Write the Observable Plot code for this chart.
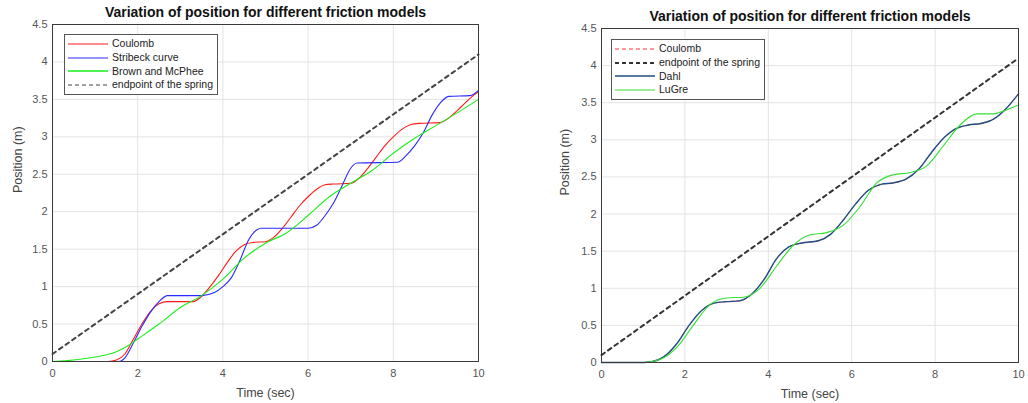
<!DOCTYPE html>
<html><head><meta charset="utf-8">
<script src="https://cdn.jsdelivr.net/npm/d3@7"></script>
<script src="https://cdn.jsdelivr.net/npm/@observablehq/plot@0.6"></script>
<style>
body{margin:0;background:#fff;width:1028px;height:403px;overflow:hidden;position:relative;font-family:"Liberation Sans",Arial,sans-serif}
.panel{position:absolute;top:0}
.legend{position:absolute;background:#fff;border:1px solid #555;font-size:10.5px;color:#222;padding:2px 4px 2px 3px;line-height:13.8px}
.legend div{display:flex;align-items:center;white-space:nowrap}
.legend svg{margin-right:4px}
</style>
</head><body>
<script>
// ---- shared ticks ----
const xTicks = [0, 2, 4, 6, 8, 10];
const yTicks = [0, 0.5, 1, 1.5, 2, 2.5, 3, 3.5, 4, 4.5];
const title = "Variation of position for different friction models";

// ---- left panel data ----
const springT = [0, 10];
const springY = [0.1, 4.1];

const coulombT = [0, 1.3, 1.5, 1.7, 1.9, 2.1, 2.3, 2.5, 2.7, 3.3, 3.5, 3.7, 3.9, 4.1, 4.3, 4.5, 4.7, 5.0, 5.2, 5.4, 5.6, 5.8, 6.0, 6.2, 6.4, 6.6, 7.0, 7.2, 7.4, 7.6, 7.8, 8.0, 8.2, 8.4, 8.6, 9.1, 9.3, 9.5, 9.7, 9.9, 10];
const coulombY = [0, 0, 0.02, 0.1, 0.3, 0.5, 0.67, 0.77, 0.8, 0.8, 0.87, 1.0, 1.15, 1.32, 1.47, 1.56, 1.59, 1.6, 1.66, 1.78, 1.93, 2.08, 2.2, 2.3, 2.36, 2.37, 2.38, 2.45, 2.58, 2.73, 2.88, 3.0, 3.1, 3.16, 3.18, 3.19, 3.25, 3.35, 3.46, 3.56, 3.6];

const stribeckT = [0, 1.55, 1.7, 1.9, 2.1, 2.3, 2.5, 2.7, 3.5, 3.8, 4.0, 4.2, 4.4, 4.6, 4.8, 4.9, 6.0, 6.2, 6.4, 6.6, 6.8, 7.0, 7.15, 8.1, 8.3, 8.5, 8.7, 8.9, 9.1, 9.3, 9.8, 10];
const stribeckY = [0, 0, 0.05, 0.25, 0.47, 0.66, 0.8, 0.88, 0.88, 0.92, 1.0, 1.12, 1.35, 1.62, 1.76, 1.78, 1.78, 1.82, 1.95, 2.12, 2.35, 2.58, 2.65, 2.66, 2.75, 2.88, 3.05, 3.28, 3.45, 3.54, 3.55, 3.62];

const brownT = [0, 0.5, 1.0, 1.5, 1.8, 2.0, 2.5, 3.0, 3.5, 4.0, 4.5, 5.0, 5.5, 6.0, 6.5, 7.0, 7.5, 8.0, 8.5, 9.0, 9.5, 10];
const brownY = [0, 0.02, 0.06, 0.13, 0.22, 0.3, 0.5, 0.72, 0.88, 1.1, 1.38, 1.58, 1.72, 1.95, 2.2, 2.38, 2.55, 2.78, 2.98, 3.15, 3.32, 3.5];

// ---- right panel data ----
const dahlT = [0, 1.0, 1.2, 1.5, 1.8, 2.1, 2.4, 2.7, 3.0, 3.3, 3.6, 3.9, 4.2, 4.5, 4.8, 5.2, 5.5, 5.8, 6.1, 6.4, 6.7, 7.0, 7.3, 7.6, 7.9, 8.2, 8.5, 8.8, 9.1, 9.4, 9.7, 10];
const dahlY = [0, 0, 0.01, 0.08, 0.25, 0.5, 0.7, 0.8, 0.82, 0.83, 0.92, 1.12, 1.4, 1.56, 1.61, 1.64, 1.73, 1.92, 2.14, 2.32, 2.4, 2.42, 2.47, 2.6, 2.82, 3.02, 3.15, 3.2, 3.22, 3.28, 3.42, 3.62];

const coulomb2T = [0, 1.0, 1.2, 1.5, 1.8, 2.1, 2.4, 2.7, 3.0, 3.3, 3.6, 3.9, 4.2, 4.5, 4.8, 5.2, 5.5, 5.8, 6.1, 6.4, 6.7, 7.0, 7.3, 7.6, 7.9, 8.2, 8.5, 8.8, 9.1, 9.4, 9.7, 10];
const coulomb2Y = [0, 0, 0.01, 0.08, 0.25, 0.5, 0.7, 0.8, 0.82, 0.83, 0.92, 1.12, 1.4, 1.56, 1.61, 1.64, 1.73, 1.92, 2.14, 2.32, 2.4, 2.42, 2.47, 2.6, 2.82, 3.02, 3.15, 3.2, 3.22, 3.28, 3.42, 3.62];

const lugreT = [0, 1.0, 1.4, 1.8, 2.2, 2.6, 3.0, 3.4, 3.8, 4.2, 4.6, 5.0, 5.4, 5.8, 6.2, 6.6, 7.0, 7.4, 7.8, 8.2, 8.6, 9.0, 9.4, 9.7, 10];
const lugreY = [0, 0, 0.04, 0.2, 0.5, 0.78, 0.87, 0.88, 1.0, 1.3, 1.58, 1.72, 1.75, 1.85, 2.1, 2.42, 2.53, 2.56, 2.65, 2.92, 3.2, 3.35, 3.35, 3.4, 3.47];

const toRows = (T, Y) => T.map((t, i) => ({t, y: Y[i]}));

function panel({width, ml, mr, mt, mb, titleDy, ylabDx, lines}) {
  return Plot.plot({
    width, height: 403,
    marginLeft: ml, marginRight: mr, marginTop: mt, marginBottom: mb,
    style: {fontFamily: "Liberation Sans, Arial, sans-serif", fontSize: "11px", color: "#555", background: "transparent", overflow: "visible"},
    x: {domain: [0, 10], label: null},
    y: {domain: [0, 4.5], label: null},
    marks: [
      Plot.gridX(xTicks, {stroke: "#e3e3e3", strokeOpacity: 1}),
      Plot.gridY(yTicks, {stroke: "#e3e3e3", strokeOpacity: 1}),
      Plot.axisX(xTicks, {tickSize: 0, tickPadding: 8, tickFormat: d => String(d), fill: "#555", fontSize: 11}),
      Plot.axisY(yTicks, {tickSize: 0, tickPadding: 5, tickFormat: d => String(d), fill: "#555", fontSize: 11}),
      ...lines.map(s => Plot.line(toRows(s.T, s.Y), {x: "t", y: "y", stroke: s.color, strokeWidth: s.w, strokeDasharray: s.dash, curve: "monotone-x"})),
      Plot.frame({stroke: "#3a3a3a", strokeWidth: 1}),
      Plot.text([title], {frameAnchor: "top", dy: titleDy, fontWeight: "bold", fontSize: 14, fill: "#111"}),
      Plot.text(["Time (sec)"], {frameAnchor: "bottom", dy: 35, fontSize: 12.5, fill: "#444"}),
      Plot.text(["Position (m)"], {frameAnchor: "left", dx: ylabDx, rotate: -90, fontSize: 12.5, fill: "#444"})
    ]
  });
}

const left = panel({
  width: 500, ml: 52, mr: 22, mt: 24, mb: 42, titleDy: -17, ylabDx: -35,
  lines: [
    {T: coulombT, Y: coulombY, color: "#ff1a1a", w: 1.1},
    {T: stribeckT, Y: stribeckY, color: "#2a2aff", w: 1.1},
    {T: brownT, Y: brownY, color: "#1aee1a", w: 1.1},
    {T: springT, Y: springY, color: "#444", w: 2, dash: "4,4"}
  ]
});
left.classList.add("panel");
left.style.left = "0px";
document.body.appendChild(left);

const right = panel({
  width: 488, ml: 61, mr: 10, mt: 28, mb: 41, titleDy: -17, ylabDx: -37,
  lines: [
    {T: coulomb2T, Y: coulomb2Y, color: "#ff3030", w: 1, dash: "4,3"},
    {T: springT, Y: springY, color: "#333", w: 2, dash: "4,4"},
    {T: dahlT, Y: dahlY, color: "#1f4f80", w: 1.4},
    {T: lugreT, Y: lugreY, color: "#33e033", w: 1.1}
  ]
});
right.classList.add("panel");
right.style.left = "540px";
document.body.appendChild(right);

function legend(x, y, items) {
  const box = document.createElement("div");
  box.className = "legend";
  box.style.left = x + "px"; box.style.top = y + "px";
  for (const it of items) {
    const row = document.createElement("div");
    row.innerHTML = `<svg width="40" height="6"><line x1="0" y1="3" x2="40" y2="3" stroke="${it.color}" stroke-width="${it.w}" ${it.dash ? `stroke-dasharray="${it.dash}"` : ""}/></svg><span>${it.label}</span>`;
    box.appendChild(row);
  }
  document.body.appendChild(box);
}
legend(64, 34, [
  {label: "Coulomb", color: "#ff1a1a", w: 1.1},
  {label: "Stribeck curve", color: "#2a2aff", w: 1.1},
  {label: "Brown and McPhee", color: "#1aee1a", w: 1.5},
  {label: "endpoint of the spring", color: "#444", w: 1.2, dash: "4,3"}
]);
legend(611, 39, [
  {label: "Coulomb", color: "#ff3030", w: 1, dash: "4,3"},
  {label: "endpoint of the spring", color: "#333", w: 2, dash: "4,3"},
  {label: "Dahl", color: "#1f4f80", w: 1.4},
  {label: "LuGre", color: "#33e033", w: 1.1}
]);
</script>
</body></html>
